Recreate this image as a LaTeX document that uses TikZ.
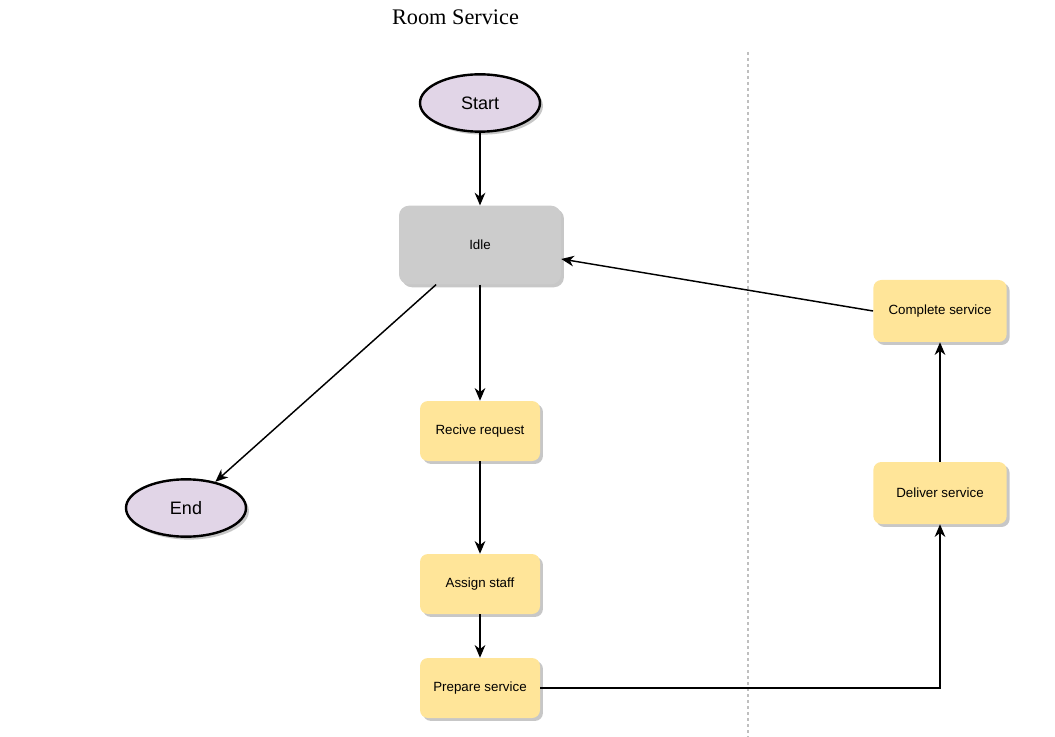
\documentclass[tikz,border=0pt]{standalone}
\usepackage{fontspec}
\setmainfont{Liberation Sans}
\newfontfamily\titlefont{Liberation Serif}
\usepackage{xcolor}
\usetikzlibrary{shapes.geometric, arrows.meta, positioning, calc, shadows}
\definecolor{lilac}{HTML}{E1D5E7}
\definecolor{sand}{HTML}{FFE599}
\definecolor{idlegray}{HTML}{CCCCCC}
\tikzset{
  shade3/.style={drop shadow={shadow xshift=2.2pt,shadow yshift=-2.2pt,fill=black!22,opacity=1}},
  terminal/.style={ellipse,draw,line width=1.8pt,fill=lilac,shade3,minimum width=90pt,minimum height=43pt,inner sep=0pt,font=\fontsize{13.5}{16}\selectfont},
  task/.style={rounded corners=6pt,fill=sand,shade3,minimum width=90pt,minimum height=45pt,inner sep=0pt,font=\fontsize{10}{12}\selectfont},
  flow/.style={line width=1.1pt,-{Stealth[length=9.5pt,width=8pt,inset=3pt]}}
}

\begin{document}
\begin{tikzpicture}[x=0.75pt,y=-0.75pt]
  \useasboundingbox (0,0) rectangle (1055,737);

  \node[font=\titlefont\fontsize{16.7}{20}\selectfont] (title) at (455.5,17) {Room Service};

  % lane separator
  \draw[black!25,line width=1pt,dash pattern=on 2.5pt off 2pt] (748,52) -- (748,737);

  \node[terminal] (start) at (480,103) {Start};
  \node[rounded corners=7.5pt,fill=idlegray,shade3,minimum width=121.5pt,minimum height=59pt,
        font=\fontsize{10}{12}\selectfont] (idle) at (480,245) {Idle};
  \node[terminal] (end) at (186,508) {End};

  \node[task] (receive) at (480,431) {Recive request};
  \node[task] (assign) at (480,584) {Assign staff};
  \node[task] (prepare) at (480,688) {Prepare service};
  \node[task,minimum width=100pt,minimum height=46.5pt] (deliver) at (940,493) {Deliver service};
  \node[task,minimum width=100pt,minimum height=46.5pt] (complete) at (940,311) {Complete service};

  \draw[flow] (start) -- (idle);
  \draw[flow] (idle) -- (receive);
  \draw[flow] ($(idle.south west)!0.23!(idle.south east)$) -- (end);
  \draw[flow] (receive) -- (assign);
  \draw[flow] (assign) -- (prepare);
  \draw[flow] (prepare.east) -| (deliver.south);
  \draw[flow] (deliver) -- (complete);
  \draw[flow] (complete.west) -- ($(idle.east)+(0,14)$);
\end{tikzpicture}
\end{document}
